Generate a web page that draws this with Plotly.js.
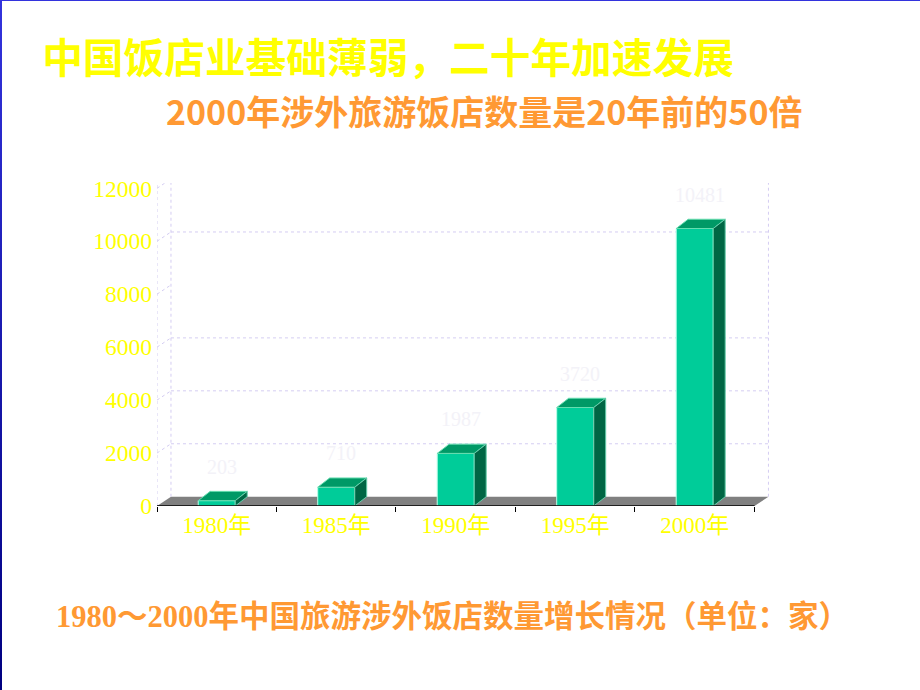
<!DOCTYPE html>
<html>
<head>
<meta charset="utf-8">
<script src="https://cdn.plot.ly/plotly-3.0.1.min.js"></script>
<style>
  html, body { margin: 0; padding: 0; background: #ffffff; }
  #wrap { position: relative; width: 920px; height: 690px; overflow: hidden; }
  #chart { position: absolute; left: 0; top: 0; width: 920px; height: 690px; }
  #bl { position: absolute; left: 0; top: 0; width: 2px; height: 690px; background: linear-gradient(#3333dd, #000080); pointer-events: none; }
  #bt { position: absolute; left: 0; top: 0; width: 920px; height: 1px; background: #3333dd; pointer-events: none; }
</style>
</head>
<body>
<div id="wrap">
  <div id="chart"></div>
  <div id="bl"></div>
  <div id="bt"></div>
</div>
<script>
// ---- data ----
const categories = ['1980年', '1985年', '1990年', '1995年', '2000年'];
const hotelCounts = [203, 710, 1987, 3720, 10481];
const yTickVals = [0, 2000, 4000, 6000, 8000, 10000, 12000];
const yTickText = ['0', '2000', '4000', '6000', '8000', '10000', '12000'];
const backGridVals = [2000, 4000, 6000, 10000];
const wallLevels = [2000, 4000, 6000, 8000, 10000, 12000];

const titleText = '中国饭店业基础薄弱，二十年加速发展';
const subtitleText = '2000年涉外旅游饭店数量是20年前的50倍';
const captionText = '1980～2000年中国旅游涉外饭店数量增长情况（单位：家）';

// ---- styling / geometry ----
const W = 920, H = 690;
const M = { l: 157, r: 150, t: 183, b: 184 };
const xRange = [-0.5, 4.63];
const yRange = [0, 12200];
const barW = 0.31;     // bar width (category units)
const dxBar = 0.1;     // 3D depth offset, x
const dxFloor = 0.117; // floor depth offset, x
const dy = 350;        // 3D depth offset, y (data units)

const plotW = W - M.l - M.r, plotH = H - M.t - M.b;
function pxX(px) { return (px - M.l) / plotW; }
function pxY(py) { return (H - M.b - py) / plotH; }

const idx = categories.map((c, i) => i);
const xMin = -0.5, xMax = categories.length - 0.5;

// top and side faces built from the data values
const topX = [], topY = [], sideX = [], sideY = [];
idx.forEach((i) => {
  const v = hotelCounts[i];
  const x0 = i - barW / 2, x1 = i + barW / 2;
  topX.push(x0, x1, x1 + dxBar, x0 + dxBar, x0, null);
  topY.push(v, v, v + dy, v + dy, v, null);
  sideX.push(x1, x1, x1 + dxBar, x1 + dxBar, x1, null);
  sideY.push(0, v, v + dy, dy, 0, null);
});

const traces = [
  {
    type: 'bar', x: idx, y: hotelCounts, width: barW,
    marker: { color: '#00cc99', line: { color: '#b8ffe8', width: 1 } },
    hoverinfo: 'skip', showlegend: false
  },
  {
    type: 'scatter', mode: 'lines', x: topX, y: topY, fill: 'toself',
    fillcolor: '#009966', line: { color: '#66ddb0', width: 1 },
    hoverinfo: 'skip', showlegend: false
  },
  {
    type: 'scatter', mode: 'lines', x: sideX, y: sideY, fill: 'toself',
    fillcolor: '#006644', line: { color: '#66ccaa', width: 1 },
    hoverinfo: 'skip', showlegend: false
  }
];

const gridColor = '#d4cdf2';
const shapes = [];
// floor
shapes.push({
  type: 'path', xref: 'x', yref: 'y', layer: 'below',
  path: `M ${xMin},0 L ${xMax},0 L ${xMax + dxFloor},${dy} L ${xMin + dxFloor},${dy} Z`,
  fillcolor: '#808080', line: { width: 0 }
});
// back wall grid lines
backGridVals.forEach((v) => {
  shapes.push({
    type: 'line', xref: 'x', yref: 'y', layer: 'below',
    x0: xMin + dxFloor, x1: xMax + dxFloor, y0: v + dy, y1: v + dy,
    line: { color: gridColor, width: 1, dash: 'dot' }
  });
});
// left wall diagonals
wallLevels.forEach((v) => {
  shapes.push({
    type: 'line', xref: 'x', yref: 'y', layer: 'below',
    x0: xMin, x1: xMin + dxFloor, y0: v, y1: v + dy,
    line: { color: gridColor, width: 1, dash: 'dot' }
  });
});
// wall verticals
[[xMin, 0], [xMin + dxFloor, dy], [xMax + dxFloor, dy]].forEach(([x, y0]) => {
  shapes.push({
    type: 'line', xref: 'x', yref: 'y', layer: 'below',
    x0: x, x1: x, y0: y0, y1: yRange[1],
    line: { color: gridColor, width: 1, dash: 'dot' }
  });
});
// front axis line
shapes.push({
  type: 'line', xref: 'x', yref: 'y', layer: 'above',
  x0: xMin, x1: xMax, y0: 0, y1: 0,
  line: { color: '#000000', width: 1.5 }
});

// boundary ticks between categories
const boundaries = [];
for (let i = 0; i <= categories.length; i++) boundaries.push(i - 0.5);

const annotations = [];
idx.forEach((i) => {
  annotations.push({
    xref: 'x', yref: 'y', x: i, y: hotelCounts[i], text: String(hotelCounts[i]),
    showarrow: false, xshift: 5, yshift: 34, yanchor: 'middle',
    font: { family: 'Liberation Serif', size: 20, color: '#f3f2f8' }
  });
});
annotations.push({
  xref: 'paper', yref: 'paper', x: pxX(484), y: pxY(110), xanchor: 'center', yanchor: 'middle',
  text: '<b>' + subtitleText + '</b>', showarrow: false,
  font: { family: 'Noto Sans CJK SC', size: 34, color: '#ff9933' }
});
annotations.push({
  xref: 'paper', yref: 'paper', x: pxX(452), y: pxY(617), xanchor: 'center', yanchor: 'middle',
  text: '<b>' + captionText + '</b>', showarrow: false,
  font: { family: 'Liberation Serif, Noto Sans CJK SC', size: 30.5, color: '#ff9933' }
});

const layout = {
  width: W, height: H,
  margin: M,
  paper_bgcolor: '#ffffff', plot_bgcolor: 'rgba(0,0,0,0)',
  showlegend: false,
  title: {
    text: '<b>' + titleText + '</b>',
    xref: 'container', yref: 'container',
    x: 388 / W, xanchor: 'center', y: 1 - 59 / H, yanchor: 'middle',
    font: { family: 'Noto Sans CJK SC', size: 40.7, color: '#ffff00' }
  },
  xaxis: {
    range: xRange, showgrid: false, zeroline: false, showline: false,
    tickmode: 'array', tickvals: idx, ticktext: categories, ticks: '',
    tickfont: { family: 'Liberation Serif, Noto Sans CJK SC', size: 23, color: '#ffff00' },
    minor: { tickmode: 'array', tickvals: boundaries, ticks: 'outside', ticklen: 5, tickcolor: '#000000', tickwidth: 1, showgrid: false },
    ticklabelstandoff: 3,
    fixedrange: true
  },
  yaxis: {
    range: yRange, showgrid: false, zeroline: false, showline: false,
    tickmode: 'array', tickvals: yTickVals, ticktext: yTickText, ticks: '',
    tickfont: { family: 'Liberation Serif', size: 23.5, color: '#ffff00' },
    ticklabelstandoff: 4,
    fixedrange: true
  },
  shapes: shapes,
  annotations: annotations,
  bargap: 0
};

Plotly.newPlot('chart', traces, layout, { displayModeBar: false, staticPlot: true });
</script>
</body>
</html>
